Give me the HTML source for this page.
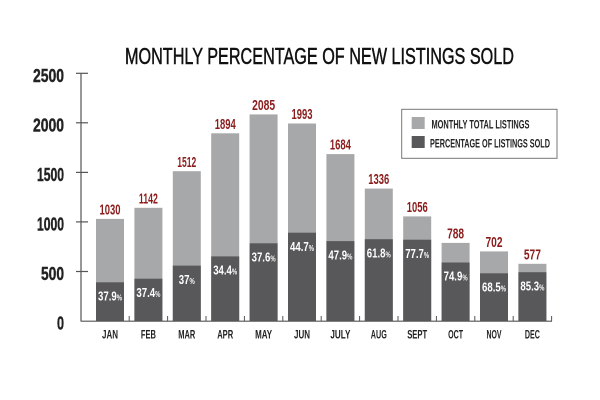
<!DOCTYPE html>
<html><head><meta charset="utf-8"><style>html,body{margin:0;padding:0;background:#fff}svg{display:block}text{font-family:"Liberation Sans Narrow","Liberation Sans",sans-serif;font-weight:bold}</style></head>
<body>
<svg width="600" height="400" viewBox="0 0 600 400" xmlns="http://www.w3.org/2000/svg">
<rect width="600" height="400" fill="#fff"/>
<text x="125" y="64" font-size="23" fill="#111" textLength="389" lengthAdjust="spacingAndGlyphs" style="font-weight:normal" stroke="#111" stroke-width="0.5">MONTHLY PERCENTAGE OF NEW LISTINGS SOLD</text>
<line x1="81" y1="73" x2="81" y2="321.5" stroke="#555" stroke-width="1.2"/>
<g stroke="#555" stroke-width="1.2">
<line x1="76" y1="73.3" x2="88" y2="73.3"/><line x1="76" y1="122.8" x2="88" y2="122.8"/><line x1="76" y1="172.4" x2="88" y2="172.4"/><line x1="76" y1="221.9" x2="88" y2="221.9"/><line x1="76" y1="271.5" x2="88" y2="271.5"/>
</g>
<g font-size="18" fill="#222" text-anchor="end" style="font-weight:normal" stroke="#222" stroke-width="0.4">
<text x="64" y="82" textLength="31" lengthAdjust="spacingAndGlyphs">2500</text>
<text x="64" y="131.5" textLength="31" lengthAdjust="spacingAndGlyphs">2000</text>
<text x="64" y="181" textLength="27" lengthAdjust="spacingAndGlyphs">1500</text>
<text x="64" y="230.5" textLength="27" lengthAdjust="spacingAndGlyphs">1000</text>
<text x="64" y="280" textLength="23" lengthAdjust="spacingAndGlyphs">500</text>
<text x="64" y="329.5" textLength="7" lengthAdjust="spacingAndGlyphs">0</text>
</g>
<g fill="#a7a8aa">
<rect x="96" y="218.9" width="28" height="102.1"/>
<rect x="134.4" y="207.8" width="28" height="113.2"/>
<rect x="172.8" y="171.2" width="28" height="149.8"/>
<rect x="211.2" y="133.3" width="28" height="187.7"/>
<rect x="249.6" y="114.4" width="28" height="206.6"/>
<rect x="288" y="123.5" width="28" height="197.5"/>
<rect x="326.4" y="154.1" width="28" height="166.9"/>
<rect x="364.8" y="188.6" width="28" height="132.4"/>
<rect x="403.2" y="216.4" width="28" height="104.6"/>
<rect x="441.6" y="242.9" width="28" height="78.1"/>
<rect x="480" y="251.4" width="28" height="69.6"/>
<rect x="518.4" y="263.8" width="28" height="57.2"/>
</g>
<g fill="#58585a">
<rect x="96" y="282.3" width="28" height="38.7"/>
<rect x="134.4" y="278.7" width="28" height="42.3"/>
<rect x="172.8" y="265.6" width="28" height="55.4"/>
<rect x="211.2" y="256.4" width="28" height="64.6"/>
<rect x="249.6" y="243.3" width="28" height="77.7"/>
<rect x="288" y="232.7" width="28" height="88.3"/>
<rect x="326.4" y="241.1" width="28" height="79.9"/>
<rect x="364.8" y="239.2" width="28" height="81.8"/>
<rect x="403.2" y="239.7" width="28" height="81.3"/>
<rect x="441.6" y="262.5" width="28" height="58.5"/>
<rect x="480" y="273.3" width="28" height="47.7"/>
<rect x="518.4" y="272.2" width="28" height="48.8"/>
</g>
<line x1="81" y1="321.2" x2="552" y2="321.2" stroke="#555" stroke-width="1.2"/>
<g stroke="#555" stroke-width="1">
<line x1="129.2" y1="316" x2="129.2" y2="321"/><line x1="167.6" y1="316" x2="167.6" y2="321"/><line x1="206" y1="316" x2="206" y2="321"/><line x1="244.4" y1="316" x2="244.4" y2="321"/><line x1="282.8" y1="316" x2="282.8" y2="321"/><line x1="321.2" y1="316" x2="321.2" y2="321"/><line x1="359.6" y1="316" x2="359.6" y2="321"/><line x1="398" y1="316" x2="398" y2="321"/><line x1="436.4" y1="316" x2="436.4" y2="321"/><line x1="474.8" y1="316" x2="474.8" y2="321"/><line x1="513.2" y1="316" x2="513.2" y2="321"/><line x1="551.6" y1="316" x2="551.6" y2="321"/>
</g>
<g font-size="15" fill="#8b1c1c" text-anchor="middle">
<text x="110" y="214.5" textLength="21" lengthAdjust="spacingAndGlyphs">1030</text>
<text x="148.4" y="203.4" textLength="19" lengthAdjust="spacingAndGlyphs">1142</text>
<text x="186.8" y="166.8" textLength="19" lengthAdjust="spacingAndGlyphs">1512</text>
<text x="225.2" y="128.9" textLength="21" lengthAdjust="spacingAndGlyphs">1894</text>
<text x="263.6" y="110" textLength="23" lengthAdjust="spacingAndGlyphs">2085</text>
<text x="302" y="119.1" textLength="21" lengthAdjust="spacingAndGlyphs">1993</text>
<text x="340.4" y="149.7" textLength="21" lengthAdjust="spacingAndGlyphs">1684</text>
<text x="378.8" y="184.2" textLength="21" lengthAdjust="spacingAndGlyphs">1336</text>
<text x="417.2" y="212" textLength="21" lengthAdjust="spacingAndGlyphs">1056</text>
<text x="455.6" y="238.5" textLength="17" lengthAdjust="spacingAndGlyphs">788</text>
<text x="494" y="247" textLength="17" lengthAdjust="spacingAndGlyphs">702</text>
<text x="532.4" y="259.4" textLength="17" lengthAdjust="spacingAndGlyphs">577</text>
</g>
<g font-size="13" fill="#fff" text-anchor="middle">
<text x="110" y="300.5" textLength="24" lengthAdjust="spacingAndGlyphs">37.9<tspan font-size="8">%</tspan></text>
<text x="148.4" y="296.9" textLength="24" lengthAdjust="spacingAndGlyphs">37.4<tspan font-size="8">%</tspan></text>
<text x="186.8" y="283.8" textLength="16" lengthAdjust="spacingAndGlyphs">37<tspan font-size="8">%</tspan></text>
<text x="225.2" y="274.6" textLength="24" lengthAdjust="spacingAndGlyphs">34.4<tspan font-size="8">%</tspan></text>
<text x="263.6" y="261.5" textLength="24" lengthAdjust="spacingAndGlyphs">37.6<tspan font-size="8">%</tspan></text>
<text x="302" y="250.9" textLength="24" lengthAdjust="spacingAndGlyphs">44.7<tspan font-size="8">%</tspan></text>
<text x="340.4" y="259.3" textLength="24" lengthAdjust="spacingAndGlyphs">47.9<tspan font-size="8">%</tspan></text>
<text x="378.8" y="257.4" textLength="24" lengthAdjust="spacingAndGlyphs">61.8<tspan font-size="8">%</tspan></text>
<text x="417.2" y="257.9" textLength="24" lengthAdjust="spacingAndGlyphs">77.7<tspan font-size="8">%</tspan></text>
<text x="455.6" y="280.7" textLength="24" lengthAdjust="spacingAndGlyphs">74.9<tspan font-size="8">%</tspan></text>
<text x="494" y="291.5" textLength="24" lengthAdjust="spacingAndGlyphs">68.5<tspan font-size="8">%</tspan></text>
<text x="532.4" y="290.4" textLength="24" lengthAdjust="spacingAndGlyphs">85.3<tspan font-size="8">%</tspan></text>
</g>
<g font-size="11.5" fill="#222" text-anchor="middle">
<text x="110" y="338.5" textLength="16" lengthAdjust="spacingAndGlyphs">JAN</text>
<text x="148.4" y="338.5" textLength="15" lengthAdjust="spacingAndGlyphs">FEB</text>
<text x="186.8" y="338.5" textLength="17" lengthAdjust="spacingAndGlyphs">MAR</text>
<text x="225.2" y="338.5" textLength="16" lengthAdjust="spacingAndGlyphs">APR</text>
<text x="263.6" y="338.5" textLength="17" lengthAdjust="spacingAndGlyphs">MAY</text>
<text x="302" y="338.5" textLength="16" lengthAdjust="spacingAndGlyphs">JUN</text>
<text x="340.4" y="338.5" textLength="20" lengthAdjust="spacingAndGlyphs">JULY</text>
<text x="378.8" y="338.5" textLength="16" lengthAdjust="spacingAndGlyphs">AUG</text>
<text x="417.2" y="338.5" textLength="20" lengthAdjust="spacingAndGlyphs">SEPT</text>
<text x="455.6" y="338.5" textLength="15" lengthAdjust="spacingAndGlyphs">OCT</text>
<text x="494" y="338.5" textLength="15" lengthAdjust="spacingAndGlyphs">NOV</text>
<text x="532.4" y="338.5" textLength="15" lengthAdjust="spacingAndGlyphs">DEC</text>
</g>
<rect x="401.7" y="109.3" width="155.3" height="49" fill="#fff" stroke="#777" stroke-width="1"/>
<rect x="411.7" y="117" width="13" height="12" fill="#a7a8aa"/>
<rect x="411.7" y="136" width="13" height="12" fill="#58585a"/>
<g font-size="11.5" fill="#222">
<text x="431.5" y="128.3" textLength="98" lengthAdjust="spacingAndGlyphs">MONTHLY TOTAL LISTINGS</text>
<text x="430" y="147.3" textLength="120" lengthAdjust="spacingAndGlyphs">PERCENTAGE OF LISTINGS SOLD</text>
</g>
</svg>
</body></html>
